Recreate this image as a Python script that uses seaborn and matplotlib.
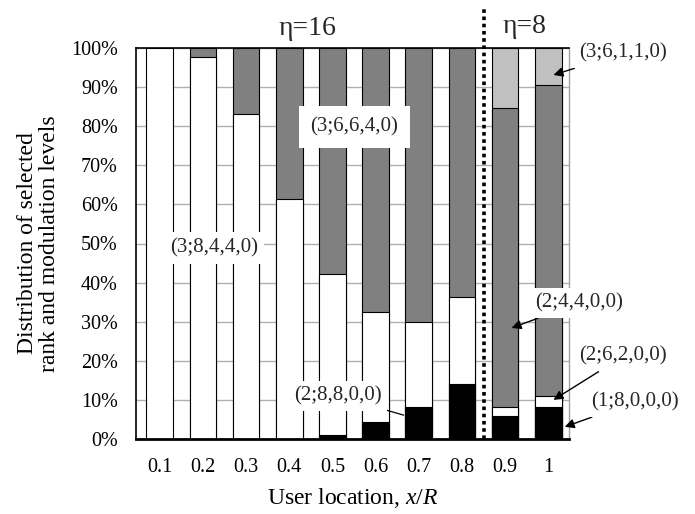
import numpy as np
import pandas as pd
import matplotlib
matplotlib.use("Agg")
import matplotlib.pyplot as plt
import seaborn as sns

# ---- data (percent shares) ----
locations = ["0.1", "0.2", "0.3", "0.4", "0.5", "0.6", "0.7", "0.8", "0.9", "1"]
black_share = [0, 0, 0, 0, 1.1, 4.4, 8.1, 14.0, 5.9, 8.3]          # (2;8,8,0,0) / (1;8,0,0,0)
white_share = [100, 97.8, 83.0, 61.3, 41.0, 28.1, 21.9, 22.4, 2.2, 2.8]  # (3;8,4,4,0) / (2;6,2,0,0)
dark_share = [0, 2.2, 17.0, 38.7, 57.9, 67.5, 70.0, 63.6, 76.5, 79.4]    # (3;6,6,4,0) / (2;4,4,0,0)
light_share = [0, 0, 0, 0, 0, 0, 0, 0, 15.4, 9.5]                     # (3;6,1,1,0)
yticks = [0, 10, 20, 30, 40, 50, 60, 70, 80, 90, 100]

df = pd.DataFrame({
    "loc": locations,
    "black": black_share,
    "white": white_share,
    "dark": dark_share,
    "light": light_share,
})
df["c_black"] = df["black"]
df["c_white"] = df["c_black"] + df["white"]
df["c_dark"] = df["c_white"] + df["dark"]
df["c_light"] = df["c_dark"] + df["light"]
# hide layers that have no share at a location
for seg, cum in [("black", "c_black"), ("white", "c_white"), ("dark", "c_dark"), ("light", "c_light")]:
    df.loc[df[seg] <= 0, cum] = np.nan

sns.set_theme(style="white")
plt.rcParams["font.family"] = ["Liberation Serif", "DejaVu Serif"]
plt.rcParams["mathtext.fontset"] = "custom"
plt.rcParams["mathtext.it"] = "Liberation Serif:italic"
plt.rcParams["mathtext.rm"] = "Liberation Serif"

fig = plt.figure(figsize=(6.95, 5.14), dpi=100)
ax = fig.add_axes([136 / 695, 1 - 439 / 514, (569 - 136) / 695, (439 - 48) / 514])

layers = [("c_light", "#c0c0c0"), ("c_dark", "#808080"), ("c_white", "#ffffff"), ("c_black", "#000000")]
for col, colr in layers:
    sns.barplot(data=df, x="loc", y=col, order=locations, color=colr, saturation=1,
                width=0.62, edgecolor="black", linewidth=0.8, ax=ax, zorder=2)

ax.set_xlim(-0.55, 9.48)
ax.set_ylim(0, 100)
ax.set_yticks(yticks)
ax.set_yticklabels([f"{v}%" for v in yticks])
ax.yaxis.grid(True, color="#b0b0b0", lw=1)
ax.xaxis.grid(False)
ax.set_axisbelow(True)
ax.tick_params(axis="both", length=0, labelsize=14.5, colors="black")
ax.tick_params(axis="y", pad=13)
ax.tick_params(axis="x", pad=14)

for s in ["left", "bottom", "top"]:
    ax.spines[s].set_color("black")
ax.spines["left"].set_linewidth(1.2)
ax.spines["bottom"].set_linewidth(2)
ax.spines["top"].set_linewidth(1.2)
ax.spines["right"].set_color("#a0a0a0")
ax.spines["right"].set_linewidth(1)

ax.set_xlabel(r"User location, $x$/$R$", fontsize=17, labelpad=6, color="black")
ax.set_ylabel("Distribution of selected\nrank and modulation levels", fontsize=17,
              labelpad=8, linespacing=1.05, color="black")

# dotted separator
ax.plot([7.5, 7.5], [0, 110.2], ls=(0, (1, 1)), lw=2.6, color="black", clip_on=False, zorder=6)

ax.text(3.43, 103.3, "η=16", fontsize=20, ha="center", va="baseline", clip_on=False)
ax.text(8.45, 103.8, "η=8", fontsize=20, ha="center", va="baseline", clip_on=False)

box = dict(boxstyle="square,pad=0.25", fc="white", ec="none")
fs = 15
ax.text(4.51, 79.8, "(3;6,6,4,0)", fontsize=fs, ha="center", va="center", zorder=5,
        bbox=dict(boxstyle="square,pad=0.55", fc="white", ec="none"))
ax.text(1.25, 48.8, "(3;8,4,4,0)", fontsize=fs, ha="center", va="center", zorder=5,
        bbox=dict(boxstyle="square,pad=0.3", fc="white", ec="none"))
ax.annotate("(2;8,8,0,0)", xy=(5.65, 6.1), xytext=(4.12, 11.0), fontsize=fs,
            ha="center", va="center", zorder=5, bbox=box,
            arrowprops=dict(arrowstyle="-", color="black", lw=0.9, shrinkA=0, shrinkB=0))

arr = dict(arrowstyle="-|>", color="black", lw=1, mutation_scale=14, shrinkA=1, shrinkB=0)
ax.annotate("(3;6,1,1,0)", xy=(9.12, 93.1), xytext=(10.72, 98.7), fontsize=fs,
            ha="center", va="center", zorder=5, bbox=box, arrowprops=arr, annotation_clip=False)
ax.annotate("(2;4,4,0,0)", xy=(8.15, 28.4), xytext=(9.72, 34.8), fontsize=fs,
            ha="center", va="center", zorder=5, bbox=box, arrowprops=arr, annotation_clip=False)
ax.annotate("(2;6,2,0,0)", xy=(9.12, 10.0), xytext=(10.74, 21.2), fontsize=fs,
            ha="center", va="center", zorder=5, bbox=box, arrowprops=arr, annotation_clip=False)
ax.annotate("(1;8,0,0,0)", xy=(9.38, 3.1), xytext=(11.0, 9.5), fontsize=fs,
            ha="center", va="center", zorder=5, bbox=box, arrowprops=arr, annotation_clip=False)

fig.savefig("out.png", dpi=100)
